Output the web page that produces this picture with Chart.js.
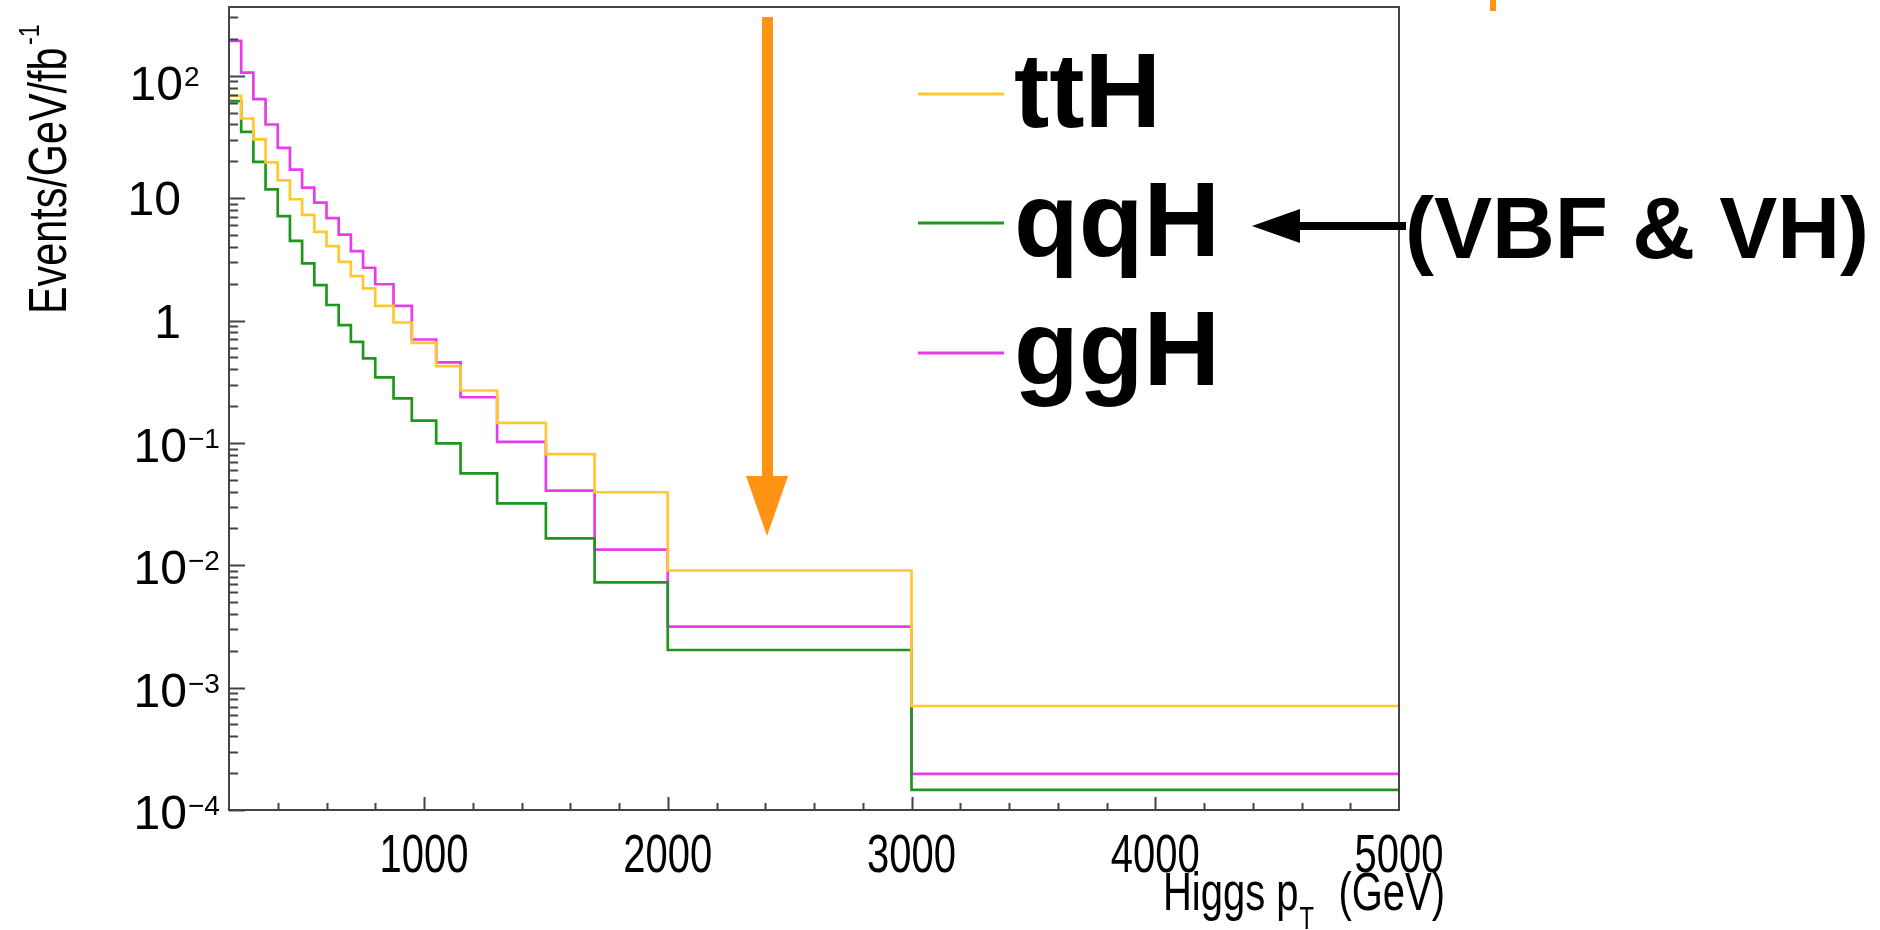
<!DOCTYPE html>
<html>
<head>
<meta charset="utf-8">
<script src="https://cdn.jsdelivr.net/npm/chart.js@4.4.1/dist/chart.umd.min.js"></script>
<style>
html,body{margin:0;padding:0;background:#ffffff;}
#wrap{width:1880px;height:930px;position:relative;}
</style>
</head>
<body>
<div id="wrap"><canvas id="c"></canvas></div>
<script>
// ---- data ----
const binEdges = [200,250,300,350,400,450,500,550,600,650,700,750,800,875,950,1050,1150,1300,1500,1700,2000,3000,5000];
const ttH = [68.5,44.8,30.2,19.6,14.0,9.8,7.3,5.3,4.05,3.02,2.31,1.83,1.32,0.964,0.658,0.424,0.268,0.146,0.081,0.0395,0.00906,0.000708];
const qqH = [62,34.8,19.8,11.8,7.13,4.48,2.93,1.95,1.34,0.916,0.67,0.49,0.343,0.231,0.152,0.099,0.0564,0.0321,0.0166,0.00724,0.00203,0.000146];
const ggH = [193,106,64.4,40.0,25.8,17.1,12.2,9.2,6.87,5.03,3.69,2.70,1.98,1.32,0.70,0.455,0.236,0.102,0.0407,0.0134,0.00315,0.000197];
const seriesNames = ['ttH','qqH','ggH'];
const seriesColors = ['#FFC92E','#1F961F','#E93CE9'];
const xTickValues = [1000,2000,3000,4000,5000];
const xTickLabels = ['1000','2000','3000','4000','5000'];
const yTickValues = [1e-4,1e-3,1e-2,1e-1,1,10,100];
const yTickBase = ['10','10','10','10','1','10','10'];
const yTickExp = ['\u22124','\u22123','\u22122','\u22121','','','2'];
const xRange = [200,5000];
const yRange = [1e-4,365];
const xTitleMain = 'Higgs p', xTitleSub = 'T', xTitleUnit = '(GeV)';
const yTitleMain = 'Events/GeV/fb', yTitleSup = '-1';
const noteText = '(VBF & VH)';

const SANS = "'Liberation Sans',Arial,Helvetica,sans-serif";

function histPoints(vals){
  const pts = vals.map((v,i)=>({x:binEdges[i], y:v}));
  pts.push({x:binEdges[binEdges.length-1], y:vals[vals.length-1]});
  return pts;
}

const seriesVals = [ttH,qqH,ggH];
const datasets = seriesNames.map((n,i)=>({
  label:n,
  data:histPoints(seriesVals[i]),
  borderColor:seriesColors[i],
  backgroundColor:seriesColors[i],
  borderWidth:2.7,
  pointRadius:0,
  stepped:'before',
  fill:false,
  tension:0
}));

function squeezeText(ctx, text, x, y, align, sx){
  ctx.save();
  ctx.translate(x, y);
  ctx.scale(sx, 1);
  ctx.textAlign = align || 'left';
  ctx.fillText(text, 0, 0);
  const w = ctx.measureText(text).width * sx;
  ctx.restore();
  return w;
}

const decor = {
  id:'decor',
  afterDatasetsDraw(chart){
    const {ctx, chartArea:a, scales:{x,y}} = chart;
    ctx.save();
    ctx.strokeStyle = '#444';
    ctx.lineWidth = 2;
    ctx.beginPath();
    for(let d=-4; d<=2; d++){
      for(let k=1;k<=9;k++){
        const v = k*Math.pow(10,d);
        if(v<yRange[0]*0.999 || v>yRange[1]) continue;
        const py = Math.round(y.getPixelForValue(v))+0.5;
        const len = k===1 ? 16 : 9;
        ctx.moveTo(a.left, py); ctx.lineTo(a.left+len, py);
      }
    }
    for(let v=400; v<5000; v+=200){
      const px = Math.round(x.getPixelForValue(v))+0.5;
      const len = v%1000===0 ? 13 : 7;
      ctx.moveTo(px, a.bottom); ctx.lineTo(px, a.bottom-len);
    }
    ctx.stroke();
    ctx.strokeRect(a.left, a.top, a.right-a.left, a.bottom-a.top);
    ctx.restore();
  },
  afterDraw(chart){
    const {ctx, scales:{x,y}} = chart;
    ctx.save();
    ctx.fillStyle = '#000';
    ctx.textBaseline = 'alphabetic';
    // y tick labels: base + raised exponent
    y.ticks.forEach((t,i)=>{
      const py = y.getPixelForValue(t.value);
      const base = yTickBase[i], ex = yTickExp[i];
      ctx.font = "48px "+SANS;
      ctx.textAlign = 'right';
      if(!ex){
        ctx.fillText(base, 181, py+17);
      } else {
        const right = ex.length>1 ? 187 : 183;
        const bl = py + (ex.length>1 ? 19 : 24);
        ctx.fillText(base, right, bl);
        ctx.font = "28px "+SANS;
        ctx.textAlign = 'left';
        ctx.fillText(ex, right+1, bl-14);
      }
    });
    // x tick labels (condensed)
    ctx.font = "54px "+SANS;
    xTickValues.forEach((v,i)=>{
      squeezeText(ctx, xTickLabels[i], x.getPixelForValue(v), 872, 'center', 0.74);
    });
    // legend
    const legY = [94,223,353];
    const legBase = [127,256,385];
    chart.data.datasets.forEach((ds,i)=>{
      ctx.strokeStyle = ds.borderColor;
      ctx.lineWidth = 3;
      ctx.beginPath(); ctx.moveTo(918,legY[i]); ctx.lineTo(1004,legY[i]); ctx.stroke();
      ctx.fillStyle = '#000';
      ctx.font = "bold 106px "+SANS;
      ctx.textAlign='left';
      ctx.fillText(ds.label, 1014, legBase[i]);
    });
    // note text
    ctx.font = "bold 87px "+SANS;
    ctx.fillStyle = '#000';
    ctx.textAlign='left';
    ctx.fillText(noteText, 1405, 258);
    // black arrow
    ctx.fillRect(1296, 222, 110, 8);
    ctx.beginPath(); ctx.moveTo(1252,226); ctx.lineTo(1300,209); ctx.lineTo(1300,243); ctx.closePath(); ctx.fill();
    // orange arrow
    ctx.fillStyle = '#FF9414';
    ctx.fillRect(762, 17, 11, 462);
    ctx.beginPath(); ctx.moveTo(746,476); ctx.lineTo(788,476); ctx.lineTo(767,536); ctx.closePath(); ctx.fill();
    ctx.fillRect(1490, 0, 6, 11);
    // x title
    ctx.fillStyle = '#000';
    ctx.font = "54px "+SANS;
    const w1 = squeezeText(ctx, xTitleMain, 1163, 910, 'left', 0.74);
    ctx.font = "32px "+SANS;
    squeezeText(ctx, xTitleSub, 1163+w1+1, 929, 'left', 0.74);
    ctx.font = "54px "+SANS;
    squeezeText(ctx, xTitleUnit, 1445, 910, 'right', 0.74);
    // y title (rotated, condensed)
    ctx.save();
    ctx.translate(66, 314);
    ctx.rotate(-Math.PI/2);
    ctx.scale(0.78, 1);
    ctx.textAlign='left';
    ctx.font = "53px "+SANS;
    ctx.fillText(yTitleMain, 0, 0);
    const w2 = ctx.measureText(yTitleMain).width;
    ctx.font = "30px "+SANS;
    ctx.fillText(yTitleSup, w2+3, -27);
    ctx.restore();
    ctx.restore();
  }
};

new Chart(document.getElementById('c'), {
  type:'line',
  data:{datasets},
  options:{
    responsive:true,
    maintainAspectRatio:false,
    devicePixelRatio:1,
    animation:false,
    events:[],
    layout:{padding:{left:0,top:7,right:481,bottom:0}},
    plugins:{legend:{display:false}, tooltip:{enabled:false}, title:{display:false}},
    scales:{
      x:{
        type:'linear', min:xRange[0], max:xRange[1],
        grid:{display:false, drawTicks:false},
        border:{display:false},
        afterBuildTicks:(s)=>{ s.ticks = xTickValues.map(v=>({value:v})); },
        afterFit:(s)=>{ s.height = 120; s.paddingLeft=0; s.paddingRight=0; },
        ticks:{ display:false, autoSkip:false, maxRotation:0, minRotation:0,
          callback:(v,i)=>xTickLabels[i] }
      },
      y:{
        type:'logarithmic', min:yRange[0], max:yRange[1],
        grid:{display:false, drawTicks:false},
        border:{display:false},
        afterBuildTicks:(s)=>{ s.ticks = yTickValues.map(v=>({value:v})); },
        afterFit:(s)=>{ s.width = 229; s.paddingTop=0; s.paddingBottom=0; },
        ticks:{ display:false, autoSkip:false,
          callback:(v,i)=>yTickBase[i]+yTickExp[i] }
      }
    }
  },
  plugins:[decor]
});
</script>
</body>
</html>
